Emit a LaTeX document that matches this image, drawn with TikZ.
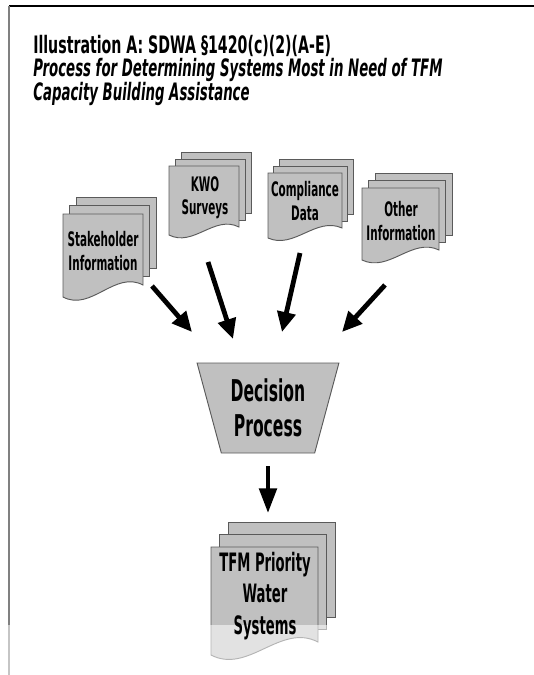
\documentclass[tikz,border=0pt]{standalone}
\usepackage{fontspec}
\setmainfont{DejaVu Sans}
\newfontfamily\narrowfont{DejaVu Sans}[FakeStretch=0.52]
\newfontfamily\headfont{DejaVu Sans}[FakeStretch=0.59]
\newfontfamily\headitfont{DejaVu Sans}[FakeStretch=0.555]
\usepackage{tikz}
\usetikzlibrary{arrows.meta, shapes.geometric, positioning}

\definecolor{sheetgray}{HTML}{C0C0C0}
\definecolor{edgegray}{HTML}{5A5A5A}

\tikzset{
  sheet/.style={fill=sheetgray, draw=edgegray, line width=0.7pt},
  doctext/.style={font=\narrowfont\bfseries\fontsize{15}{17.5}\selectfont, align=center, inner sep=0pt},
  fatarrow/.style={line width=3.6pt, -{Triangle[length=15pt, width=13.5pt]}},
}

% stack of three sheets: x0, y0, width, right height, wave drop, dx, dy
\newcommand{\docstack}[7]{%
  \filldraw[sheet] (#1+2*#6,#2-2*#7) rectangle ++(#3,#4);
  \filldraw[sheet] (#1+#6,#2-#7) rectangle ++(#3,#4);
  \filldraw[sheet] (#1,#2) -- (#1+#3,#2) -- (#1+#3,#2+#4)
    .. controls (#1+0.65*#3,#2+#4-0.18*#4-0.18*#5) and (#1+0.35*#3,#2+#4+#5+0.18*#4+0.18*#5) ..
    (#1,#2+#4+#5) -- cycle;
}

\begin{document}
\begin{tikzpicture}[x=0.75pt,y=-0.75pt]
  \useasboundingbox (0,0) rectangle (534,675);

  % frame
  \draw[black, line width=1.1pt] (9,6) -- (534,6);
  \draw[gray, line width=1.5pt] (9,6) -- (9,675);

  % heading
  \node[anchor=north west, align=left, inner sep=0pt] (heading) at (33,35)
    {\headfont\fontsize{18}{19}\selectfont\bfseries Illustration A: SDWA §1420(c)(2)(A-E)\\
     \headitfont\fontsize{18}{19}\selectfont\bfseries\itshape Process for Determining Systems Most in Need of TFM\\
     \headitfont\fontsize{18}{19}\selectfont\bfseries\itshape Capacity Building Assistance};

  % input documents
  \docstack{63}{214}{80}{71}{12}{6.5}{8.5}
  \docstack{169}{166}{70}{61}{8}{6}{7}
  \docstack{268}{173}{74}{55}{10}{5.5}{7}
  \docstack{362}{188}{77}{62}{10}{6.5}{7.5}
  \node[doctext] (stake) at (103,251) {Stakeholder\\Information};
  \node[doctext] (kwo) at (205,198) {KWO\\Surveys};
  \node[doctext] (comply) at (305,201) {Compliance\\Data};
  \node[doctext] (other) at (401,221) {Other\\Information};

  % decision step
  \node[trapezium, trapezium angle=72, shape border rotate=180, trapezium stretches=true,
        minimum width=106.5pt, minimum height=67.5pt, fill=sheetgray, draw=edgegray, line width=0.7pt,
        align=center, font=\narrowfont\bfseries\fontsize{22.5}{26}\selectfont] (decide) at (268,408) {Decision\\Process};

  % arrows into the decision
  \coordinate (stake-out) at (152,286);
  \coordinate (kwo-out) at (208,262);
  \coordinate (comply-out) at (300,253);
  \coordinate (other-out) at (385,285);
  \coordinate (in-a) at (192,332);
  \coordinate (in-b) at (233,339);
  \coordinate (in-c) at (282,332);
  \coordinate (in-d) at (342,332);
  \draw[fatarrow] (stake-out) -- (in-a);
  \draw[fatarrow] (kwo-out) -- (in-b);
  \draw[fatarrow] (comply-out) -- (in-c);
  \draw[fatarrow] (other-out) -- (in-d);

  % result
  \coordinate (dec-out) at (268,466);
  \coordinate (tfm-in) at (268,513);
  \draw[line width=3.2pt, -{Triangle[length=18.5pt, width=13pt]}] (dec-out) -- (tfm-in);
  \docstack{211}{547}{107}{95}{13}{8.5}{12.5}

  % faded lower edge of the scan
  \fill[white, opacity=0.55] (0,625) rectangle (534,675);

  \node[doctext, font=\narrowfont\bfseries\fontsize{19}{23.5}\selectfont] (tfm) at (265,596) {TFM Priority\\Water\\Systems};
\end{tikzpicture}
\end{document}
